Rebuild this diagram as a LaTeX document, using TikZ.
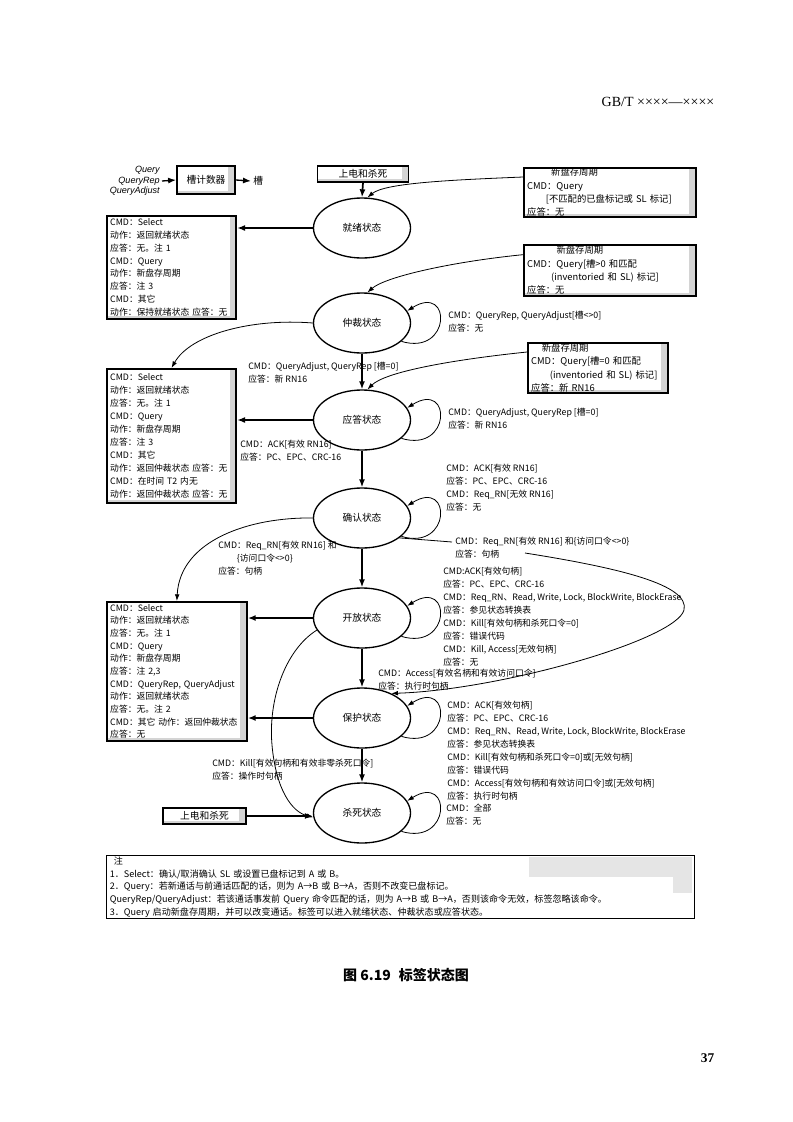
\documentclass[tikz,border=0pt]{standalone}
\usepackage{fontspec}
\usepackage{tikz}
\usetikzlibrary{arrows.meta,shapes.geometric,positioning,calc}
\newfontfamily\cjk{Noto Sans CJK SC}
\newfontfamily\hdrfont{Liberation Serif}
\newfontfamily\qfont{Liberation Sans}
\newcommand\cmdfont{\cjk\fontsize{6.6}{9.7}\selectfont}

\begin{document}
\begin{tikzpicture}[x=0.75pt,y=-0.75pt,
    state/.style={draw,ellipse,line width=1pt,minimum width=72.75pt,minimum height=45pt,inner sep=0pt,font=\cjk\fontsize{7.3}{8}\selectfont},
    shadeedge/.style={path picture={
        \fill[black!17] ([xshift=-5pt]path picture bounding box.north east) rectangle (path picture bounding box.south east);
        \fill[black!17] (path picture bounding box.south west) rectangle ([yshift=2pt]path picture bounding box.south east);}},
    cmdbox/.style={draw,line width=1.3pt,fill=white,shadeedge,anchor=north west,align=left,inner xsep=2.5pt,inner ysep=0pt,font=\cmdfont},
    plainbox/.style={draw,line width=1pt,fill=white,shadeedge,inner sep=0pt,font=\cjk\fontsize{7.3}{8}\selectfont},
    txt/.style={anchor=north west,align=left,inner sep=0pt,font=\cmdfont},
    go/.style={-{Latex[length=6pt,width=4.5pt]},line width=1.3pt},
    arc/.style={-{Latex[length=5pt,width=3.5pt]},line width=0.6pt}
  ]
    \useasboundingbox (0,0) rectangle (793,1122);

    % page header, caption and page number
    \node[anchor=east,font=\hdrfont\fontsize{10.5}{12}\selectfont] (hdr) at (719,102) {GB/T ××××—××××};
    \node[font=\cjk\bfseries\fontsize{10.5}{12}\selectfont] (cap) at (406,975) {图 6.19\hspace{6pt}标签状态图};
    \node[anchor=east,font=\hdrfont\bfseries\fontsize{10}{12}\selectfont] (pgno) at (719,1058) {37};

    % slot counter
    \node[anchor=east,align=right,inner sep=1.5pt,font=\qfont\itshape\fontsize{6.8}{7.9}\selectfont] (qin) at (162,181) {Query\\QueryRep\\QueryAdjust};
    \node[plainbox,line width=1.3pt,minimum width=43.5pt,minimum height=21pt] (slot) at (206,180) {槽计数器};
    \node[anchor=west,inner sep=1.5pt,font=\cjk\fontsize{7.3}{8}\selectfont] (slotout) at (251,181) {槽};
    \draw[go,line width=1pt] (qin.east) -- (slot.west);
    \draw[go,line width=1pt] (slot.east) -- (slotout.west);

    % states
    \node[plainbox,minimum width=68.25pt,minimum height=12pt] (pwr) at (363,174) {上电和杀死};
    \node[state] (ready) at (362,228) {就绪状态};
    \node[state] (arb) at (362,323) {仲裁状态};
    \node[state] (reply) at (362,420) {应答状态};
    \node[state] (ack) at (362,518) {确认状态};
    \node[state] (open) at (362,618) {开放状态};
    \node[state] (secured) at (362,718) {保护状态};
    \node[state] (killed) at (362,813) {杀死状态};
    \node[plainbox,minimum width=62.25pt,minimum height=12pt] (pwrkill) at (204.5,816) {上电和杀死};

    % main chain
    \draw[go] (pwr.south) -- (ready.north);
    \draw[go] (arb.south) -- (reply.north);
    \draw[go] (reply.south) -- (ack.north);
    \draw[go] (ack.south) -- (open.north);
    \draw[go] (open.south) -- (secured.north);
    \draw[go] (secured.south) -- (killed.north);
    \draw[go] (pwrkill.east) -- (pwrkill.east -| killed.west);

    % command boxes on the left
    \node[cmdbox,text width=92pt,minimum height=77.25pt] (rdybox) at (106,215) {CMD：Select\\动作：返回就绪状态\\应答：无。注 1\\CMD：Query\\动作：新盘存周期\\应答：注 3\\CMD：其它\\动作：保持就绪状态 应答：无};
    \node[cmdbox,text width=92pt,minimum height=100.5pt] (arbbox) at (106,368) {CMD：Select\\动作：返回就绪状态\\应答：无。注 1\\CMD：Query\\动作：新盘存周期\\应答：注 3\\CMD：其它\\动作：返回仲裁状态 应答：无\\CMD：在时间 T2 内无\\动作：返回仲裁状态 应答：无};
    \node[cmdbox,text width=100pt,minimum height=104.25pt,font=\cjk\fontsize{6.6}{9.5}\selectfont] (openbox) at (106,601) {CMD：Select\\动作：返回就绪状态\\应答：无。注 1\\CMD：Query\\动作：新盘存周期\\应答：注 2,3\\CMD：QueryRep, QueryAdjust\\动作：返回就绪状态\\应答：无。注 2\\CMD：其它 动作：返回仲裁状态\\应答：无};

    \draw[go] (ready.west) -- (ready.west -| rdybox.east);
    \draw[go] (reply.west) -- (reply.west -| arbbox.east);
    \draw[go] (open.west) -- (open.west -| openbox.east);
    \draw[go] (secured.west) -- (secured.west -| openbox.east);
    \draw[arc] (arb.west) .. controls (250,318) and (190,335) .. (arbbox.north);
    \draw[arc] (ack.west) .. controls (250,517) and (180,540) .. (openbox.north);
    \draw[arc] (open.195) .. controls (285,650) and (268,700) .. (272,745) .. controls (276,790) and (292,812) .. (killed.185);

    % new inventory round boxes on the right
    \node[cmdbox,text width=124pt,minimum height=36.75pt,font=\cjk\fontsize{7}{10}\selectfont] (newA) at (523,167) {\hspace*{18pt}新盘存周期\\CMD：Query\\\hspace*{14pt}[不匹配的已盘标记或 SL 标记]\\应答：无};
    \node[cmdbox,text width=124pt,minimum height=38.25pt,font=\cjk\fontsize{7}{10}\selectfont] (newB) at (523,244) {\hspace*{22pt}新盘存周期\\CMD：Query[槽>0 和匹配\\\hspace*{18pt}(inventoried 和 SL) 标记]\\应答：无};
    \node[cmdbox,text width=100pt,minimum height=37.5pt,font=\cjk\fontsize{7}{10}\selectfont] (newC) at (527,342) {\hspace*{8pt}新盘存周期\\CMD：Query[槽=0 和匹配\\\hspace*{14pt}(inventoried 和 SL) 标记]\\应答：新 RN16};
    \draw[arc] ([yshift=-7.5pt]newA.north west) .. controls (450,180) and (385,183) .. (ready.80);
    \draw[arc] ([yshift=-8pt]newB.north west) .. controls (450,262) and (385,277) .. (arb.80);
    \draw[arc] ([yshift=-7.5pt]newC.north west) .. controls (450,360) and (385,372) .. (reply.80);

    % self loops
    \draw[arc] (arb.-25) .. controls +(50,15) and +(45,-28) .. (arb.15);
    \draw[arc] (reply.-25) .. controls +(50,15) and +(45,-28) .. (reply.15);
    \draw[arc] (ack.-25) .. controls +(50,15) and +(45,-28) .. (ack.15);
    \draw[arc] (open.-25) .. controls +(50,15) and +(45,-28) .. (open.15);
    \draw[arc] (secured.-25) .. controls +(50,15) and +(45,-28) .. (secured.15);
    \draw[arc] (killed.-25) .. controls +(50,15) and +(45,-28) .. (killed.15);

    % acknowledged -> secured
    \coordinate (reqin) at (452,542);
    \coordinate (reqout) at (525,553);
    \draw[line width=0.6pt] (ack.-28) -- (reqin);
    \draw[arc] (reqout) .. controls (620,568) and (690,585) .. (684,610) .. controls (676,640) and (500,690) .. (secured.40);

    % transition labels
    \node[txt] (qrlbl) at (248,362) {CMD：QueryAdjust, QueryRep [槽=0]\\应答：新 RN16};
    \node[txt] (acklbl) at (240,440) {CMD：ACK[有效 RN16]\\应答：PC、EPC、CRC-16};
    \node[txt] (reqlbl) at (218,541) {CMD：Req\_RN[有效 RN16] 和\\\hspace*{14pt}\{访问口令<>0\}\\应答：句柄};
    \node[txt] (killlbl) at (212,759) {CMD：Kill[有效句柄和有效非零杀死口令]\\应答：操作时句柄};
    \node[txt] (arbloop) at (448,311) {CMD：QueryRep, QueryAdjust[槽<>0]\\应答：无};
    \node[txt] (replyloop) at (448,408) {CMD：QueryAdjust, QueryRep [槽=0]\\应答：新 RN16};
    \node[txt] (ackloop) at (446,464) {CMD：ACK[有效 RN16]\\应答：PC、EPC、CRC-16\\CMD：Req\_RN[无效 RN16]\\应答：无};
    \node[txt] (securelbl) at (455,537) {CMD：Req\_RN[有效 RN16] 和\{访问口令<>0\}\\应答：句柄};
    \node[txt] (openloop) at (443,567) {CMD:ACK[有效句柄]\\应答：PC、EPC、CRC-16\\CMD：Req\_RN、Read, Write, Lock, BlockWrite, BlockErase\\应答：参见状态转换表\\CMD：Kill[有效句柄和杀死口令=0]\\应答：错误代码\\CMD：Kill, Access[无效句柄]\\应答：无};
    \node[txt] (accesslbl) at (378,669) {CMD：Access[有效名柄和有效访问口令]\\应答：执行时句柄};
    \node[txt] (secloop) at (447,701) {CMD：ACK[有效句柄]\\应答：PC、EPC、CRC-16\\CMD：Req\_RN、Read, Write, Lock, BlockWrite, BlockErase\\应答：参见状态转换表\\CMD：Kill[有效句柄和杀死口令=0]或[无效句柄]\\应答：错误代码\\CMD：Access[有效句柄和有效访问口令]或[无效句柄]\\应答：执行时句柄};
    \node[txt] (killloop) at (446,804) {CMD：全部\\应答：无};

    % notes
    \fill[black!10] (529,857) rectangle (692,877);
    \fill[black!10] (673,877) rectangle (692,893);
    \node[draw,line width=0.8pt,anchor=north west,align=left,text width=436pt,minimum height=47.25pt,inner xsep=2.5pt,inner ysep=0pt,font=\cjk\fontsize{6.8}{9.5}\selectfont] (notes) at (106,855) {\hspace*{3pt}注\\1．Select：确认/取消确认 SL 或设置已盘标记到 A 或 B。\\2．Query：若新通话与前通话匹配的话，则为 A→B 或 B→A，否则不改变已盘标记。\\QueryRep/QueryAdjust：若该通话事发前 Query 命令匹配的话，则为 A→B 或 B→A，否则该命令无效，标签忽略该命令。\\3．Query 启动新盘存周期，并可以改变通话。标签可以进入就绪状态、仲裁状态或应答状态。};
  \end{tikzpicture}
\end{document}
